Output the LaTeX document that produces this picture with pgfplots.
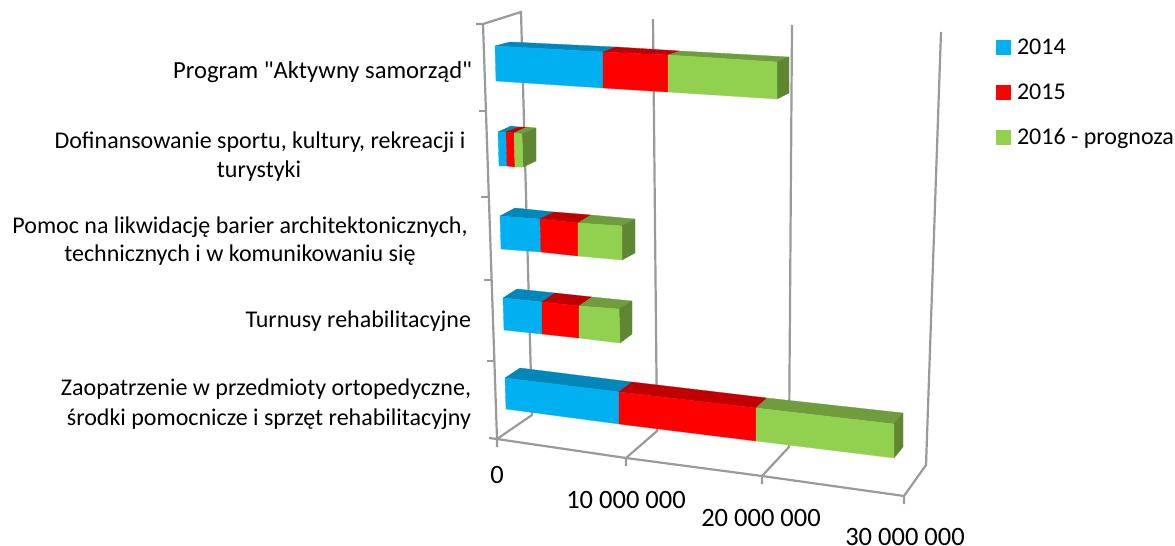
\documentclass[border=0pt]{standalone}
\usepackage{fontspec}
\setmainfont{Carlito}[Ligatures=TeXOff]
\usepackage{pgfplots}
\pgfplotsset{compat=1.18}
\definecolor{gridc}{HTML}{9A9A9A}
\definecolor{blueF}{HTML}{00B0F0}
\definecolor{blueT}{HTML}{0086B8}
\definecolor{redF}{HTML}{FF0000}
\definecolor{redT}{HTML}{C00000}
\definecolor{greenF}{HTML}{92D050}
\definecolor{greenT}{HTML}{6F9C3D}
\definecolor{greenS}{HTML}{5F8733}
% faces and walls are in picture pixels, y running downwards
\newcommand{\face}[2]{\addplot[fill=#1, draw=#1, line width=0.3pt, line join=round] coordinates {#2} -- cycle;}
\newcommand{\wall}[1]{\addplot[gridc, line width=2.2pt] coordinates {#1};}
\begin{document}
\begin{tikzpicture}
\useasboundingbox (0,0) rectangle (1175pt,546pt);
\begin{axis}[
  scale only axis, width=1175pt, height=546pt,
  xmin=0, xmax=1175, ymin=0, ymax=546, y dir=reverse,
  axis lines=none, clip=false,
]
% walls and floor
\wall{(476,24) (483,24) (521,12) (532,415) (497,439)}
\wall{(483,24) (497,439) (497,447)}
\wall{(653,19) (657,431) (626,458) (626,466)}
\wall{(792,25) (789,447) (762,476) (762,484)}
\wall{(941,32) (926,465) (904,496) (904,504)}
\wall{(497,439) (626,458) (762,476) (904,496)}
\wall{(479,111) (486,111)}
\wall{(481,197) (488,197)}
\wall{(484,280) (491,280)}
\wall{(487,361) (494,361)}
\wall{(489,438) (497,439)}
% Program "Aktywny samorzad"
\face{blueT}{(495,46) (510,42) (616,47) (603,52)}
\face{redT}{(603,52) (616,47) (680,51) (668,55)}
\face{greenT}{(668,55) (680,51) (789,57) (777,62)}
\face{greenS}{(777,62) (789,57) (789,93) (777,99)}
\face{blueF}{(495,46) (603,52) (603,88) (496,81)}
\face{redF}{(603,52) (668,55) (668,92) (603,88)}
\face{greenF}{(668,55) (777,62) (777,99) (668,92)}
% Dofinansowanie
\face{blueT}{(498,132) (511,126) (519,127) (506,132)}
\face{redT}{(506,132) (519,127) (527,127) (514,133)}
\face{greenT}{(514,133) (527,127) (536,128) (522,134)}
\face{greenS}{(522,134) (536,128) (536,161) (523,167)}
\face{blueF}{(498,132) (506,132) (507,166) (499,166)}
\face{redF}{(506,132) (514,133) (515,167) (507,166)}
\face{greenF}{(514,133) (522,134) (523,167) (515,167)}
% Pomoc na likwidacje barier
\face{blueT}{(500,216) (515,208) (554,212) (540,219)}
\face{redT}{(540,219) (554,212) (591,215) (578,223)}
\face{greenT}{(578,223) (591,215) (635,219) (622,226)}
\face{greenS}{(622,226) (635,219) (635,253) (622,260)}
\face{blueF}{(500,216) (540,219) (541,252) (501,249)}
\face{redF}{(540,219) (578,223) (578,256) (541,252)}
\face{greenF}{(578,223) (622,226) (622,260) (578,256)}
% Turnusy rehabilitacyjne
\face{blueT}{(503,298) (517,289) (555,293) (542,302)}
\face{redT}{(542,302) (555,293) (592,297) (579,306)}
\face{greenT}{(579,306) (592,297) (632,301) (619,309)}
\face{greenS}{(619,309) (632,301) (632,334) (620,343)}
\face{blueF}{(503,298) (542,302) (542,334) (504,330)}
\face{redF}{(542,302) (579,306) (579,338) (542,334)}
\face{greenF}{(579,306) (619,309) (620,343) (579,338)}
% Zaopatrzenie
\face{blueT}{(505,378) (520,368) (632,382) (619,392)}
\face{redT}{(619,392) (632,382) (767,398) (756,408)}
\face{greenT}{(756,408) (767,398) (903,413) (894,424)}
\face{greenS}{(894,424) (903,413) (903,447) (894,458)}
\face{blueF}{(505,378) (619,392) (619,424) (506,409)}
\face{redF}{(619,392) (756,408) (756,441) (619,424)}
\face{greenF}{(756,408) (894,424) (894,458) (756,441)}
% legend keys
\face{blueF}{(996,40) (1010,40) (1010,54) (996,54)}
\face{redF}{(996,85) (1010,85) (1010,99) (996,99)}
\face{greenF}{(996,130) (1010,130) (1010,144) (996,144)}
% category labels
\begin{scope}[every node/.append style={font=\fontsize{24}{28}\selectfont, inner sep=0pt, outer sep=0pt}]
\node[anchor=base east, font=\fontsize{24.6}{28}\selectfont] at (axis cs:472,78) {Program "Aktywny samorząd"};
\node[anchor=base] at (axis cs:260,148) {Dofinansowanie sportu, kultury, rekreacji i};
\node[anchor=base] at (axis cs:259,177) {turystyki};
\node[anchor=base] at (axis cs:240,233) {Pomoc na likwidację barier architektonicznych,};
\node[anchor=base] at (axis cs:240,261) {technicznych i w komunikowaniu się};
\node[anchor=base east] at (axis cs:471,327) {Turnusy rehabilitacyjne};
\node[anchor=base east] at (axis cs:471,395) {Zaopatrzenie w przedmioty ortopedyczne,};
\node[anchor=base east] at (axis cs:471,425) {środki pomocnicze i sprzęt rehabilitacyjny};
\node[anchor=base west] at (axis cs:1017,54) {2014};
\node[anchor=base west] at (axis cs:1017,99) {2015};
\node[anchor=base west] at (axis cs:1017,144) {2016 - prognoza};
\end{scope}
% value labels
\begin{scope}[every node/.append style={font=\fontsize{26.5}{30}\selectfont, inner sep=0pt, outer sep=0pt}]
\node[anchor=base] at (axis cs:497,483) {0};
\node[anchor=base] at (axis cs:626,508) {10 000 000};
\node[anchor=base] at (axis cs:761,526) {20 000 000};
\node[anchor=base] at (axis cs:905,545) {30 000 000};
\end{scope}
\end{axis}
\end{tikzpicture}
\end{document}
